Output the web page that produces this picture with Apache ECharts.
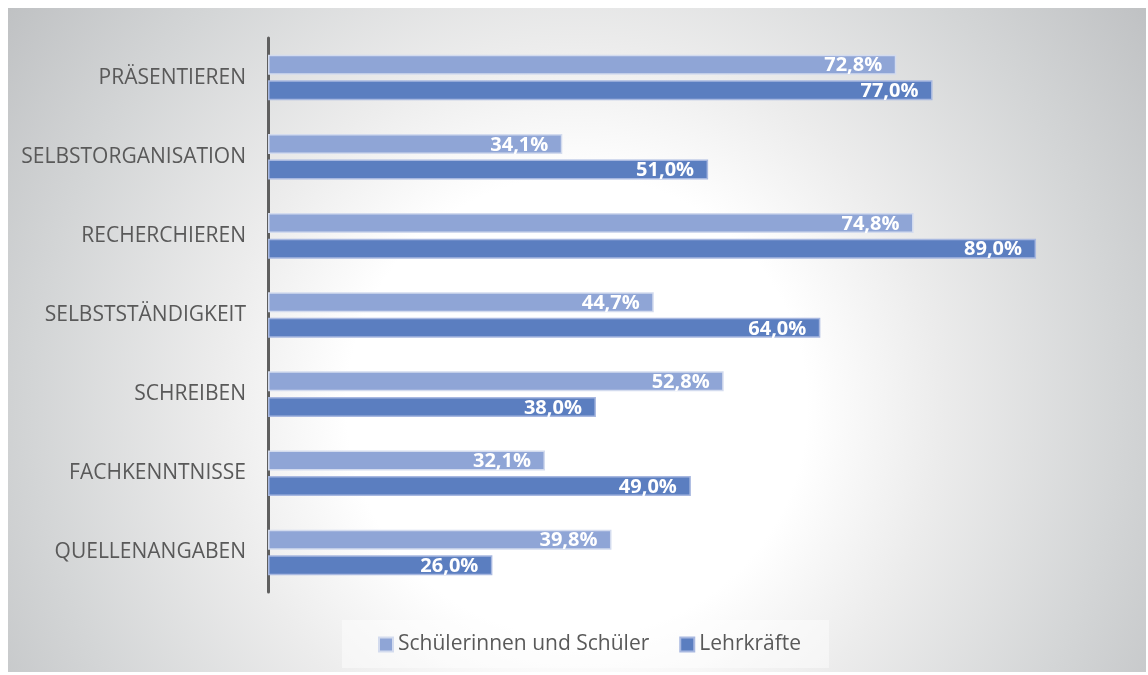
<!DOCTYPE html>
<html>
<head>
<meta charset="utf-8">
<script src="https://cdn.jsdelivr.net/npm/echarts@6/dist/echarts.min.js"></script>
<style>
html,body{margin:0;padding:0;background:#fff;}
#c{position:absolute;left:8px;top:8px;width:1138px;height:664px;box-sizing:border-box;}
</style>
</head>
<body>
<div id="c"></div>
<script>
const categories = ['PRÄSENTIEREN','SELBSTORGANISATION','RECHERCHIEREN','SELBSTSTÄNDIGKEIT','SCHREIBEN','FACHKENNTNISSE','QUELLENANGABEN'];
const schueler = [72.8, 34.1, 74.8, 44.7, 52.8, 32.1, 39.8];
const lehrkraefte = [77.0, 51.0, 89.0, 64.0, 38.0, 49.0, 26.0];
const seriesNames = ['Schülerinnen und Schüler', 'Lehrkräfte'];

const chart = echarts.init(document.getElementById('c'));
const fmt = p => p.value.toFixed(1).replace('.', ',') + '%';
const labelCfg = {
  show: true, position: 'insideRight', distance: 14, offset: [0, 1],
  color: '#fff', fontWeight: 'bold', fontSize: 20, fontFamily: 'Open Sans',
  formatter: fmt
};
chart.setOption({
  backgroundColor: {
    type: 'radial', x: 0.5, y: 0.6, r: 1.05,
    colorStops: [
      {offset: 0, color: '#ffffff'},
      {offset: 0.33, color: '#ffffff'},
      {offset: 0.52, color: '#ececec'},
      {offset: 0.78, color: '#d3d5d6'},
      {offset: 1, color: '#bfc1c3'}
    ]
  },
  animation: false,
  grid: {left: 260, right: 15, top: 30, bottom: 80},
  legend: {
    left: 334, top: 612,
    padding: [14, 28, 13, 36],
    backgroundColor: 'rgba(255,255,255,0.45)',
    itemWidth: 14, itemHeight: 14, itemGap: 30,
    icon: 'rect',
    textStyle: {color: '#595959', fontSize: 21, fontFamily: 'Open Sans'},
    data: seriesNames
  },
  xAxis: {
    type: 'value', min: 0, max: 100,
    show: false, splitLine: {show: false}
  },
  yAxis: {
    type: 'category', data: categories, inverse: true,
    axisLine: {show: true, lineStyle: {color: '#5f5f5f', width: 3}},
    axisTick: {show: false},
    axisLabel: {color: '#595959', fontSize: 21, fontFamily: 'Open Sans', margin: 22}
  },
  series: [
    {
      name: seriesNames[0], type: 'bar', data: schueler,
      barWidth: 20, barGap: '28%',
      itemStyle: {color: '#8fa5d6', borderColor: '#d3dbee', borderWidth: 1.5},
      label: labelCfg
    },
    {
      name: seriesNames[1], type: 'bar', data: lehrkraefte,
      barWidth: 20, barGap: '28%',
      itemStyle: {color: '#5b7ec0', borderColor: '#a8b8e0', borderWidth: 1.5},
      label: labelCfg
    }
  ]
});
</script>
</body>
</html>
